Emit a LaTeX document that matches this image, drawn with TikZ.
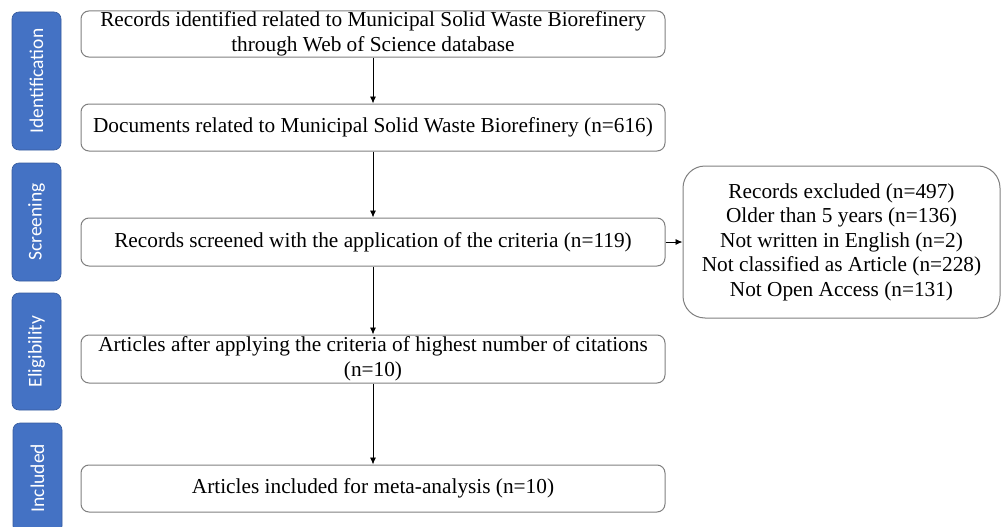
\documentclass[tikz,border=0pt]{standalone}
\usepackage{fontspec}
\setmainfont{Liberation Serif}
\newfontfamily\labelfont{Carlito}
\usepackage{xcolor}
\usetikzlibrary{shapes,arrows.meta,positioning}
\definecolor{stageblue}{HTML}{4472C4}
\definecolor{boxgray}{HTML}{7F7F7F}

\begin{document}
\begin{tikzpicture}[
    x=1pt, y=-1pt,
    box/.style={rectangle, draw=boxgray, line width=1pt, rounded corners=8pt, minimum width=584pt, minimum height=47pt, align=center, inner sep=1pt, font=\fontsize{21.3}{24.5}\selectfont},
    stage/.style={rectangle, fill=stageblue, draw=stageblue!80!black, line width=0.6pt, rounded corners=7pt, rotate=90, minimum height=49pt, text=white, font=\labelfont\fontsize{19.5}{22}\selectfont},
    arrow/.style={-{Latex[length=7pt,width=6pt]}, line width=0.9pt}
]
    \useasboundingbox (0,0) rectangle (1001,527);

    % stages on the left
    \node[stage, minimum width=138pt] (ident) at (36.5,81) {Identification};
    \node[stage, minimum width=118pt] (screen) at (36.5,222) {Screening};
    \node[stage, minimum width=117pt] (elig) at (36.5,351.5) {Eligibility};
    \node[stage, minimum width=110pt] (incl) at (37.5,478) {Included};

    % main flow
    \node[box, minimum height=44pt] (records) at (373,34) {Records identified related to Municipal Solid Waste Biorefinery\\through Web of Science database};
    \node[box] (documents) at (373,127.5) {Documents related to Municipal Solid Waste Biorefinery (n=616)};
    \node[box, minimum height=48pt] (screened) at (373,242) {Records screened with the application of the criteria (n=119)};
    \node[box, minimum height=48pt] (articles) at (373,359) {Articles after applying the criteria of highest number of citations\\(n=10)};
    \node[box] (included) at (373,488.5) {Articles included for meta-analysis (n=10)};

    % excluded records
    \node[box, minimum width=317pt, minimum height=152pt, rounded corners=22pt] (excluded) at (841.5,242) {Records excluded (n=497)\\Older than 5 years (n=136)\\Not written in English (n=2)\\Not classified as Article (n=228)\\Not Open Access (n=131)};

    \draw[arrow] (records) -- (documents);
    \draw[arrow] (documents) -- (screened);
    \draw[arrow] (screened) -- (articles);
    \draw[arrow] (articles) -- (included);
    \draw[arrow] (screened) -- (excluded);
\end{tikzpicture}
\end{document}
